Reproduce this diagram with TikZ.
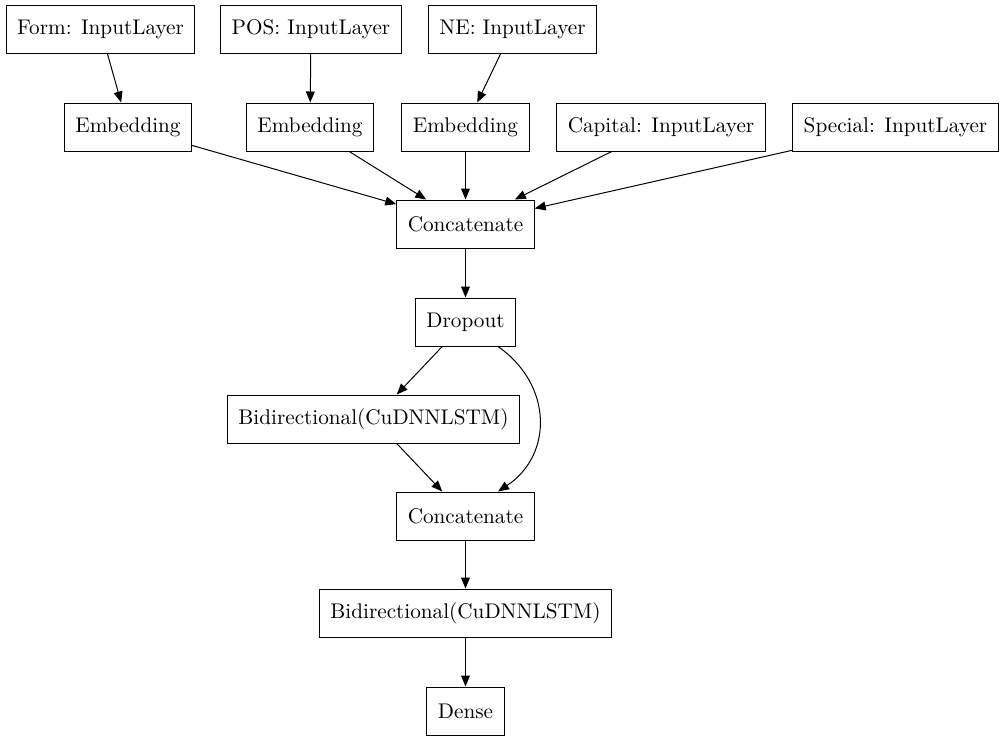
\documentclass[tikz,border=0pt]{standalone}
\usepackage{tikz}
\usetikzlibrary{arrows.meta}

\begin{document}
\begin{tikzpicture}[x=0.5pt,y=-0.5pt,
    layer/.style={draw,rectangle,line width=0.5pt,minimum height=24pt,inner xsep=5.5pt,
      font=\fontsize{10.6}{12.7}\selectfont},
    edge/.style={line width=0.5pt,-{Triangle[length=5.5pt,width=4.4pt]}}]
\useasboundingbox (0,0) rectangle (1006,741);
\node[layer] (form) at (100.5,29) {Form: InputLayer};
\node[layer] (pos) at (311,29) {POS: InputLayer};
\node[layer] (ne) at (512.5,29) {NE: InputLayer};
\node[layer] (emb1) at (128,127) {Embedding};
\node[layer] (emb2) at (310,127) {Embedding};
\node[layer] (emb3) at (465.5,127) {Embedding};
\node[layer] (capital) at (661,127) {Capital: InputLayer};
\node[layer] (special) at (895.5,127) {Special: InputLayer};
\node[layer] (concat1) at (465.5,224) {Concatenate};
\node[layer] (dropout) at (465.5,322) {Dropout};
\node[layer] (bilstm1) at (373.5,419) {Bidirectional(CuDNNLSTM)};
\node[layer] (concat2) at (465.5,516) {Concatenate};
\node[layer] (bilstm2) at (465.5,613) {Bidirectional(CuDNNLSTM)};
\node[layer] (dense) at (465.5,711) {Dense};
\draw[edge] (form) -- (emb1);
\draw[edge] (pos) -- (emb2);
\draw[edge] (ne) -- (emb3);
\draw[edge] (emb1) -- (concat1);
\draw[edge] (emb2) -- (concat1);
\draw[edge] (emb3) -- (concat1);
\draw[edge] (capital) -- (concat1);
\draw[edge] (special) -- (concat1);
\draw[edge] (concat1) -- (dropout);
\draw[edge] (dropout) -- (bilstm1);
\draw[edge] (dropout.-37) .. controls (553,385) and (553,455) .. (concat2.37);
\draw[edge] (bilstm1) -- (concat2);
\draw[edge] (concat2) -- (bilstm2);
\draw[edge] (bilstm2) -- (dense);
\end{tikzpicture}
\end{document}
